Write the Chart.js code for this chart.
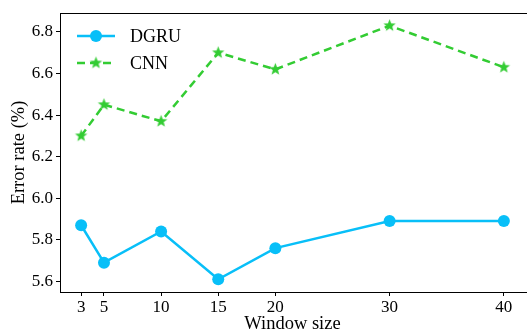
<!DOCTYPE html>
<html>
<head>
<meta charset="utf-8">
<script src="https://cdn.jsdelivr.net/npm/chart.js@4.4.0/dist/chart.umd.min.js"></script>
<style>
  html, body { margin: 0; padding: 0; background: #fff; overflow: hidden; }
  #wrap { width: 527px; height: 331px; position: relative; }
  canvas { display: block; }
</style>
</head>
<body>
<div id="wrap"><canvas id="chart"></canvas></div>
<script>
const windowSizes = [3, 5, 10, 15, 20, 30, 40];
const dgruErr = [5.87, 5.69, 5.84, 5.61, 5.76, 5.89, 5.89];
const cnnErr = [6.30, 6.45, 6.37, 6.70, 6.62, 6.83, 6.63];
const yTicks = [5.6, 5.8, 6.0, 6.2, 6.4, 6.6, 6.8];

const blue = '#08bff8';
const green = '#33cc33';
const font = 'Liberation Serif';

// filled five-point star like matplotlib's '*' marker
function makeStar(color, r) {
  const c = document.createElement('canvas');
  const s = Math.ceil(r * 2 + 2);
  c.width = s; c.height = s;
  const g = c.getContext('2d');
  g.fillStyle = color;
  g.beginPath();
  for (let i = 0; i < 10; i++) {
    const rad = i % 2 === 0 ? r : r * 0.42;
    const ang = -Math.PI / 2 + i * Math.PI / 5;
    const px = s / 2 + rad * Math.cos(ang), py = s / 2 + rad * Math.sin(ang);
    if (i === 0) g.moveTo(px, py); else g.lineTo(px, py);
  }
  g.closePath();
  g.fill();
  return c;
}
const starImg = makeStar(green, 6.5);

// top spine, and bottom spine running out to the edge (right spine is cut off)
const framePlugin = {
  id: 'frame',
  afterDraw(chart) {
    const { ctx, chartArea: a } = chart;
    ctx.save();
    ctx.strokeStyle = '#000';
    ctx.lineWidth = 1;
    ctx.beginPath();
    ctx.moveTo(a.left, a.top + 0.5);
    ctx.lineTo(chart.width, a.top + 0.5);
    ctx.moveTo(a.right - 1, a.bottom + 0.5);
    ctx.lineTo(chart.width, a.bottom + 0.5);
    ctx.stroke();
    ctx.restore();
  }
};

// legend with line + marker
const legendPlugin = {
  id: 'lineLegend',
  afterDraw(chart) {
    const { ctx, chartArea: a } = chart;
    const x0 = a.left + 17, x1 = a.left + 55;
    ctx.save();
    ctx.font = '18px ' + font;
    ctx.textBaseline = 'middle';
    chart.data.datasets.forEach((ds, i) => {
      const y = a.top + 23 + i * 27;
      ctx.strokeStyle = ds.borderColor;
      ctx.fillStyle = ds.borderColor;
      ctx.lineWidth = ds.borderWidth;
      ctx.setLineDash(ds.borderDash || []);
      ctx.beginPath();
      ctx.moveTo(x0, y);
      ctx.lineTo(x1, y);
      ctx.stroke();
      ctx.setLineDash([]);
      Chart.helpers.drawPoint(ctx, {
        pointStyle: ds.pointStyle,
        radius: ds.pointRadius,
        borderWidth: 0
      }, (x0 + x1) / 2, y);
      ctx.fillStyle = '#000';
      ctx.fillText(ds.label, x1 + 15, y + 1);
    });
    ctx.restore();
  }
};

new Chart(document.getElementById('chart'), {
  type: 'line',
  data: {
    datasets: [
      {
        label: 'DGRU',
        data: windowSizes.map((w, i) => ({ x: w, y: dgruErr[i] })),
        borderColor: blue,
        backgroundColor: blue,
        borderWidth: 2.5,
        pointStyle: 'circle',
        pointRadius: 6,
        pointBorderWidth: 0,
        pointBackgroundColor: blue,
        pointBorderColor: blue,
        tension: 0
      },
      {
        label: 'CNN',
        data: windowSizes.map((w, i) => ({ x: w, y: cnnErr[i] })),
        borderColor: green,
        backgroundColor: green,
        borderWidth: 2.5,
        borderDash: [8, 5],
        pointStyle: starImg,
        pointRadius: 6,
        pointBackgroundColor: green,
        pointBorderColor: green,
        tension: 0
      }
    ]
  },
  options: {
    responsive: true,
    maintainAspectRatio: false,
    animation: false,
    layout: { autoPadding: false, padding: { top: 13, right: 2, left: 0, bottom: 0 } },
    plugins: {
      legend: { display: false },
      tooltip: { enabled: false }
    },
    scales: {
      x: {
        type: 'linear',
        min: 1.15,
        max: 41.85,
        afterBuildTicks: s => { s.ticks = windowSizes.map(v => ({ value: v })); },
        afterFit: s => { s.height = 39; s.paddingRight = 0; s.paddingLeft = 0; },
        grid: { drawOnChartArea: false, tickLength: 4, color: '#000' },
        border: { color: '#000', width: 1 },
        ticks: { color: '#000', font: { family: font, size: 17 }, padding: 1, maxRotation: 0 },
        title: { display: true, text: 'Window size', color: '#000', font: { family: font, size: 18.5, lineHeight: 1 }, padding: { top: 0, bottom: -2 } }
      },
      y: {
        min: 5.549,
        max: 6.891,
        afterBuildTicks: s => { s.ticks = yTicks.map(v => ({ value: v })); },
        afterFit: s => { s.width = 60; s.paddingTop = 0; s.paddingBottom = 0; },
        grid: { drawOnChartArea: false, tickLength: 4, color: '#000' },
        border: { color: '#000', width: 1 },
        ticks: { color: '#000', font: { family: font, size: 17 }, padding: 3, callback: v => v.toFixed(1) },
        title: { display: true, text: 'Error rate (%)', color: '#000', font: { family: font, size: 18.5, lineHeight: 1 }, padding: { top: 10, bottom: 0 } }
      }
    }
  },
  plugins: [framePlugin, legendPlugin]
});
</script>
</body>
</html>
